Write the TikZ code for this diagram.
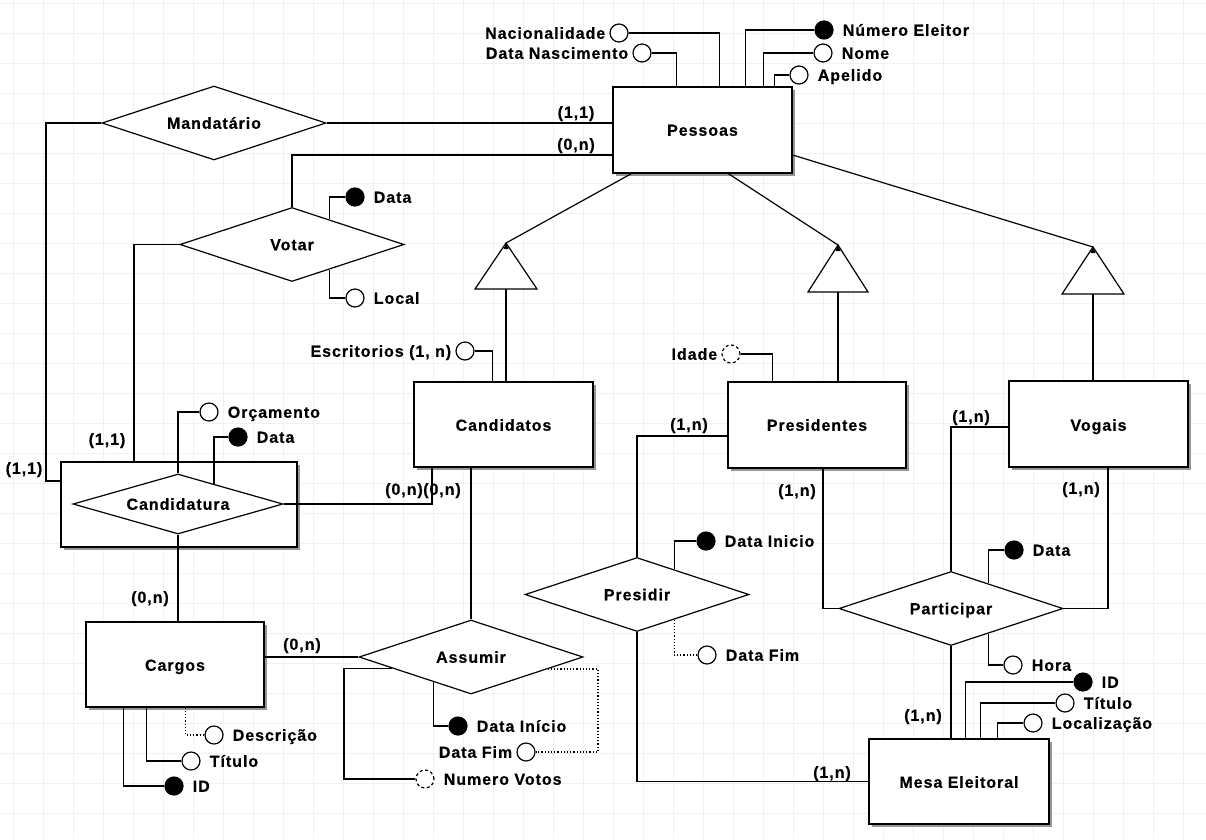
\documentclass[tikz,border=0pt]{standalone}
\usepackage{fontspec}
\setmainfont{Liberation Sans}[LetterSpace=6, BoldFeatures={FakeBold=0.4}]
\usetikzlibrary{shapes.geometric,calc,shadows}
\definecolor{gridc}{RGB}{236,242,249}
\definecolor{shadc}{RGB}{150,150,150}
\newcommand{\erfont}{\bfseries\fontsize{16}{18}\selectfont}
\tikzset{
  ln/.style={line width=1.2pt},
  dot/.style={line width=1.2pt, dash pattern=on 1.2pt off 2pt},
  txt/.style={font=\erfont, text height=11.5pt, text depth=0pt},
  ent/.style={draw, fill=white, rectangle, line width=1.3pt, inner sep=0pt, txt,
    general shadow={fill=shadc, shadow xshift=2.5pt, shadow yshift=-2.5pt}},
  rel/.style={draw, fill=white, diamond, aspect=3, inner sep=0pt, line width=1.2pt,
    txt, minimum width=224pt, minimum height=74pt},
  attr/.style={circle, draw, fill=white, minimum size=18pt, inner sep=0pt, line width=1.2pt},
  keyattr/.style={attr, fill=black},
  derattr/.style={attr, dash pattern=on 3pt off 2.5pt},
  lblR/.style={txt, inner sep=0pt, label distance=9pt},
  lblL/.style={txt, inner sep=0pt, label distance=4pt},
  card/.style={txt, inner sep=0pt}
}
\begin{document}
\begin{tikzpicture}[x=1pt, y=-1pt]
\useasboundingbox (0,0) rectangle (1206,839);
% background grid
\fill[white] (0,0) rectangle (1206,839);
\foreach \gx in {13,43,...,1206} \draw[gridc, line width=1pt] (\gx,0) -- (\gx,839);
\foreach \gy in {3,33,...,839} \draw[gridc, line width=1pt] (0,\gy) -- (1206,\gy);

% entities
\node[ent, minimum width=179pt, minimum height=86pt] (pessoas) at (702.5,130) {Pessoas};
\node[ent, minimum width=179pt, minimum height=85pt] (candidatos) at (503.5,424.5) {};
\node[ent, minimum width=178pt, minimum height=86pt] (presidentes) at (817,425) {};
\node[ent, minimum width=179pt, minimum height=86pt] (vogais) at (1098.5,424) {};
\node[ent, minimum width=180pt, minimum height=85pt] (mesa) at (959,781.5) {};
\node[ent, minimum width=178pt, minimum height=85pt] (cargos) at (175,664.5) {};
\node[ent, minimum width=236pt, minimum height=85pt] (candbox) at (179,504.5) {};
\node[card] (candidatosT) at (503.5,425) {Candidatos};
\node[card] (presidentesT) at (817,425) {Presidentes};
\node[card] (vogaisT) at (1098.5,425) {Vogais};
\node[card] (mesaT) at (959,782) {Mesa Eleitoral};
\node[card] (cargosT) at (175,665) {Cargos};

% relationships
\node[rel] (mand) at (214,123) {Mandatário};
\node[rel] (votar) at (292,244.5) {Votar};
\node[rel, minimum width=210pt, minimum height=60pt] (cand) at (178,504) {Candidatura};
\node[rel] (assumir) at (471,657) {Assumir};
\node[rel] (presidir) at (637,594.5) {Presidir};
\node[rel] (particip) at (951,608.5) {Participar};

% specialisation triangles
\coordinate (t1) at (506,243);
\coordinate (t2) at (838,245);
\coordinate (t3) at (1093,247);
\coordinate (t1b) at (506,289);
\coordinate (t2b) at (838,292);
\coordinate (t3b) at (1093,294);
\draw[ln] ($(pessoas.south west)+(19,0)$) -- (t1);
\draw[ln] ($(pessoas.south west)+(116,0)$) -- (t2);
\draw[ln] ($(pessoas.east)+(0,25)$) -- (t3);
\draw[ln, fill=white] (t1) -- ++(-31,46) -- ++(62,0) -- cycle;
\draw[ln, fill=white] (t2) -- ++(-30,47) -- ++(60,0) -- cycle;
\draw[ln, fill=white] (t3) -- ++(-31,47) -- ++(62,0) -- cycle;
\foreach \t in {t1,t2,t3} \fill (\t) -- ++(-2.5,6) -- ++(5,0) -- cycle;
\draw[ln] (t1b) -- (t1b |- candidatos.north);
\draw[ln] (t2b) -- (t2b |- presidentes.north);
\draw[ln] (t3b) -- (t3b |- vogais.north);

% Mandatario
\draw[ln] (mand.east) -- (mand.east -| pessoas.west);
\coordinate (m1) at (46,481);
\draw[ln] (mand.west) -| (m1) -- (m1 -| candbox.west);
\node[card] (c11a) at (576,112) {(1,1)};
\node[card] (c11b) at (24,468) {(1,1)};

% Votar
\coordinate (v0) at (292,155);
\draw[ln] (votar.north) -- (v0) -- (v0 -| pessoas.west);
\coordinate (v1) at (134,462);
\draw[ln] (votar.west) -| (v1);
\node[card] (c0na) at (576,144) {(0,n)};
\node[card] (c11c) at (107,439) {(1,1)};
\node[keyattr, label={[lblR, name=vdataT]right:Data}] (vdata) at (355,197) {};
\draw[ln] (vdata.west) -| ($(votar.north)!0.33!(votar.east)$);
\node[attr, label={[lblR, name=vlocalT]right:Local}] (vlocal) at (355,298) {};
\draw[ln] (vlocal.west) -| ($(votar.south)!0.33!(votar.east)$);

% Candidatura
\node[attr, label={[lblR, name=orcT]right:Orçamento}] (orc) at (209,412) {};
\draw[ln] (orc.west) -| (cand.north);
\node[keyattr, label={[lblR, name=cdataT]right:Data}] (cdata) at (238,437) {};
\draw[ln] (cdata.west) -| ($(cand.north)!0.34!(cand.east)$);
\coordinate (c1) at (432,0);
\draw[ln] (cand.east) -| (c1 |- candidatos.south);
\node[card] (c0nb) at (404,489) {(0,n)};
\node[card] (c0nc) at (442,489) {(0,n)};
\draw[ln] (cand.south) -- (cand.south |- cargos.north);
\node[card] (c0nd) at (150,597) {(0,n)};

% Candidatos
\node[attr, label={[lblL, name=escT]left:Escritorios (1, n)}] (esc) at (465,351) {};
\draw[ln] (esc.east) -| ($(candidatos.north west)+(79,0)$);
\draw[ln] (assumir.north) -- (assumir.north |- candidatos.south);

% Cargos
\draw[ln] (assumir.west) -- (assumir.west -| cargos.east);
\node[card] (c0ne) at (302,644) {(0,n)};
\node[attr, label={[lblR, name=descT]right:Descrição}] (desc) at (214,735) {};
\draw[dot] ($(cargos.south west)+(100,0)$) |- (desc.west);
\node[attr, label={[lblR, name=ctitT]right:Título}] (ctit) at (191,761) {};
\draw[ln] ($(cargos.south west)+(61,0)$) |- (ctit.west);
\node[keyattr, label={[lblR, name=cidT]right:ID}] (cid) at (174,786) {};
\draw[ln] ($(cargos.south west)+(38,0)$) |- (cid.west);

% Assumir
\node[keyattr, label={[lblR, name=adiT]right:Data Início}] (adi) at (458,726) {};
\draw[ln] ($(assumir.south)!0.33!(assumir.west)$) |- (adi.west);
\node[attr, label={[lblL, name=adfT]left:Data Fim}] (adf) at (526,752) {};
\coordinate (afx) at (598,0);
\draw[dot] ($(assumir.south)!0.68!(assumir.east)$) coordinate (af0) -- (af0 -| afx) |- (adf.east);
\node[derattr, label={[lblR, name=nvT]right:Numero Votos}] (nv) at (425,779) {};
\coordinate (nvx) at (344,0);
\draw[ln] ($(assumir.south)!0.7!(assumir.west)$) coordinate (nv0) -- (nv0 -| nvx) |- (nv.west);

% Pessoas attributes
\node[attr, label={[lblL, name=nacT]left:Nacionalidade}] (nac) at (619,33) {};
\draw[ln] (nac.east) -| ($(pessoas.north west)+(107,0)$);
\node[attr, label={[lblL, name=dnT]left:Data Nascimento}] (dn) at (642,53) {};
\draw[ln] (dn.east) -| ($(pessoas.north west)+(64,0)$);
\node[keyattr, label={[lblR, name=neT]right:Número Eleitor}] (ne) at (824,30) {};
\draw[ln] (ne.west) -| ($(pessoas.north west)+(133,0)$);
\node[attr, label={[lblR, name=nomeT]right:Nome}] (nome) at (823,53) {};
\draw[ln] (nome.west) -| ($(pessoas.north west)+(151,0)$);
\node[attr, label={[lblR, name=apT]right:Apelido}] (ap) at (799,75) {};
\draw[ln] (ap.west) -| ($(pessoas.north west)+(162,0)$);

% Presidentes
\node[derattr, label={[lblL, name=idadeT]left:Idade}] (idade) at (731,354) {};
\draw[ln] (idade.east) -| ($(presidentes.north west)+(45,0)$);
\coordinate (p1) at (637,436);
\draw[ln] (p1 -| presidentes.west) -- (p1) -- (presidir.north);
\node[card] (c1na) at (689,424) {(1,n)};
\coordinate (p2) at (823,0);
\draw[ln] (p2 |- presidentes.south) |- (particip.west);
\node[card] (c1nb) at (797,490) {(1,n)};

% Presidir
\node[keyattr, label={[lblR, name=pdiT]right:Data Inicio}] (pdi) at (706,541) {};
\draw[ln] (pdi.west) -| ($(presidir.north)!0.33!(presidir.east)$);
\node[attr, label={[lblR, name=pdfT]right:Data Fim}] (pdf) at (707,655) {};
\draw[dot] (pdf.west) -| ($(presidir.south)!0.33!(presidir.east)$);
\draw[ln] (presidir.south) |- (mesa.west);
\node[card] (c1nc) at (832,772) {(1,n)};

% Vogais
\coordinate (q1) at (951,427);
\draw[ln] (q1 -| vogais.west) -- (q1) -- (particip.north);
\node[card] (c1nd) at (971,416) {(1,n)};
\coordinate (q2) at (1108,0);
\draw[ln] (q2 |- vogais.south) |- (particip.east);
\node[card] (c1ne) at (1081,488) {(1,n)};

% Participar
\node[keyattr, label={[lblR, name=pdT]right:Data}] (pd) at (1014,550) {};
\draw[ln] (pd.west) -| ($(particip.north)!0.33!(particip.east)$);
\node[attr, label={[lblR, name=phT]right:Hora}] (ph) at (1013,665) {};
\draw[ln] (ph.west) -| ($(particip.south)!0.33!(particip.east)$);
\draw[ln] (particip.south) -- (particip.south |- mesa.north);
\node[card] (c1nf) at (923,715) {(1,n)};

% Mesa Eleitoral
\node[keyattr, label={[lblR, name=midT]right:ID}] (mid) at (1083,682) {};
\draw[ln] (mid.west) -| ($(mesa.north west)+(97,0)$);
\node[attr, label={[lblR, name=mtitT]right:Título}] (mtit) at (1065,703) {};
\draw[ln] (mtit.west) -| ($(mesa.north west)+(112,0)$);
\node[attr, label={[lblR, name=mlocT]right:Localização}] (mloc) at (1033,723) {};
\draw[ln] (mloc.west) -| ($(mesa.north west)+(129,0)$);
\end{tikzpicture}
\end{document}
